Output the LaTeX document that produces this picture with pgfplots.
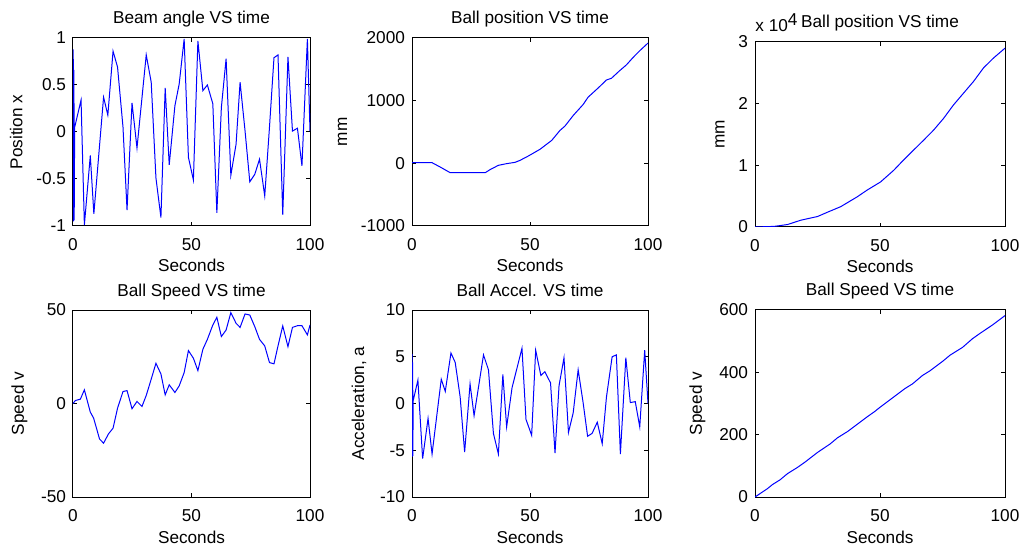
\documentclass[border=0pt]{standalone}
\usepackage{fontspec}
\setmainfont{Liberation Sans}
\usepackage{pgfplots}
\pgfplotsset{compat=1.18}
\definecolor{mblue}{RGB}{0,0,255}
\pgfplotsset{
  mat/.style={
    scale only axis, anchor=south west,
    xmin=0, xmax=100, xtick={0,50,100},
    tick align=inside, tick pos=both, major tick length=1.8pt,
    axis line style={line width=0.5pt},
    every tick/.style={black, line width=0.5pt},
    font=\fontsize{8.6}{10}\selectfont,
    /pgf/number format/assume math mode=true,
    /pgf/number format/1000 sep={},
    scaled ticks=false,
    xticklabel style={anchor=base, yshift=-12.3pt},
    x label style={at={(axis description cs:0.5,0)}, anchor=base, yshift=-23pt},
    every axis title shift=0pt,
    title style={at={(axis description cs:0.5,1)}, anchor=base, yshift=7pt},
    xlabel={Seconds},
    every axis plot/.append style={mblue, line width=0.5pt, no markers},
  },
}
\begin{document}
\begin{tikzpicture}
\useasboundingbox (0,0) rectangle (510pt,273pt);

% beam angle
\begin{axis}[mat, at={(36.5pt,160pt)}, width=118.5pt, height=94pt,
  ymin=-1, ymax=1, ytick={-1,-0.5,0,0.5,1},
  title={Beam angle VS time}, ylabel={Position x}]
\addplot coordinates {(0,0.05) (0.1,0.88) (0.2,-0.95) (0.4,0.66) (0.5,-0.94) (0.7,0.05)
 (3.4,0.34) (4.8,-0.99) (7.3,-0.25) (8.8,-0.87) (12.9,0.37) (14.7,0.18) (16.9,0.86)
 (18.8,0.69) (21.1,0.05) (22.8,-0.83) (24.9,0.31) (27.0,-0.17) (30.9,0.82) (33.0,0.53)
 (35.0,-0.49) (37.1,-0.91) (38.9,0.47) (40.6,-0.35) (43.0,0.28) (44.8,0.51) (46.9,0.99)
 (48.7,-0.27) (50.8,-0.51) (52.7,0.97) (54.8,0.44) (56.7,0.50) (59.0,0.30) (60.7,-0.86)
 (62.6,0.26) (64.6,0.78) (66.6,-0.46) (68.8,-0.13) (70.5,0.53) (72.6,0.01) (74.6,-0.53)
 (76.7,-0.45) (78.7,-0.29) (80.9,-0.68) (82.9,0.05) (84.8,0.79) (86.5,0.82) (88.5,-0.88)
 (90.7,0.80) (92.6,0.01) (94.7,0.04) (96.6,-0.36) (98.9,0.99) (100,0.01)};
\end{axis}

% ball position
\begin{axis}[mat, at={(206pt,160pt)}, width=118pt, height=94pt,
  ymin=-1000, ymax=2000, ytick={-1000,0,1000,2000},
  title={Ball position VS time}, ylabel={mm}]
\addplot coordinates {(0,10) (8.5,10) (12,-60) (16.2,-150) (31,-150) (33.1,-100)
 (36.6,-32) (40.1,-5) (43.7,16) (45.8,48) (49.3,117) (54.2,223) (59.2,366) (62.7,525)
 (64.8,594) (68.3,763) (72.5,938) (74.6,1055) (78.9,1203) (82.4,1330) (84.5,1357)
 (88,1479) (90.8,1569) (93.7,1690) (96.5,1797) (100,1919)};
\end{axis}

% ball position x 10^4
\begin{axis}[mat, name=p3, at={(377.5pt,159.5pt)}, width=125pt, height=92.5pt,
  ymin=0, ymax=3, ytick={0,1,2,3},
  title={Ball position VS time}, ylabel={mm}]
\addplot coordinates {(0,0) (7.7,0.01) (13,0.04) (18.3,0.11) (25,0.17) (29,0.24)
 (34.3,0.33) (40.9,0.49) (44.9,0.6) (50.2,0.73) (55.5,0.92) (59.5,1.09) (63.5,1.25)
 (67.5,1.41) (71.4,1.57) (75.4,1.76) (79.4,1.98) (83.4,2.17) (87.4,2.36) (91.4,2.58)
 (95.4,2.74) (100,2.90)};
\end{axis}
\node[anchor=base west, inner sep=0pt, font=\fontsize{8.6}{10}\selectfont]
  at ([yshift=5pt]p3.north west) {x 10\raisebox{3pt}{4}};

% ball speed
\begin{axis}[mat, at={(36.5pt,24.5pt)}, width=118.5pt, height=93.5pt,
  ymin=-50, ymax=50, ytick={-50,0,50},
  title={Ball Speed VS time}, ylabel={Speed v}]
\addplot coordinates {(0,0) (1.0,1.6) (3.1,2.3) (4.8,7.3) (7.3,-4.6) (8.7,-7.8)
 (11.2,-19) (12.9,-21.2) (15.0,-16.2) (16.9,-13.2) (18.8,-2.5) (21.1,6.4) (22.8,6.9)
 (24.9,-2.8) (27.0,1.1) (29.1,-1.6) (30.9,4.3) (32.9,12.6) (35.0,21.5) (37.1,15.8)
 (38.9,4.6) (40.6,10.0) (43.0,5.9) (44.8,9.4) (46.9,16.5) (48.7,28.3) (50.8,24.2)
 (52.7,17.6) (54.8,29.0) (56.7,34.3) (59.0,42.0) (60.7,46.1) (62.6,35.8) (64.6,39.3)
 (66.6,48.6) (68.8,42.9) (70.5,40.7) (72.6,47.9) (74.6,47.3) (76.7,41.1) (78.7,34.3)
 (80.9,30.8) (82.9,21.9) (84.8,21.2) (86.5,30.8) (88.5,41.5) (90.7,30.4) (92.6,40.7)
 (94.7,41.6) (96.6,41.6) (98.9,36.7) (100,42.0)};
\end{axis}

% ball accel
\begin{axis}[mat, at={(206pt,24.5pt)}, width=118pt, height=93.5pt,
  ymin=-10, ymax=10, ytick={-10,-5,0,5,10},
  title={Ball Accel. VS time}, ylabel={Acceleration, a}]
\addplot coordinates {(0,0.3) (0.05,5.3) (0.1,-5.7) (0.3,4.4) (0.35,-5.6) (0.5,0.3)
 (2.5,2.5) (4.5,-5.9) (6.8,-1.6) (8.5,-5.4) (12.4,2.6) (14.1,1.3) (16.5,5.4) (18.3,4.4)
 (20.4,0.7) (22.3,-5.2) (24.6,2.1) (26.3,-1.3) (30.3,5.2) (32.4,3.6) (34.5,-3.2)
 (36.6,-5.4) (38.5,3.1) (40.1,-2.5) (42.4,1.7) (44.4,3.7) (46.6,5.9) (48.3,-1.7)
 (50.7,-3.4) (52.4,5.7) (54.6,3.0) (56.3,3.4) (58.7,2.2) (60.6,-5.3) (62.3,1.9)
 (64.4,4.9) (66.3,-3.1) (68.3,-1.0) (70.4,3.6) (72.5,0.1) (74.4,-3.5) (76.3,-3.2)
 (78.5,-2.0) (80.6,-4.3) (82.4,0.7) (84.8,5.0) (86.6,5.2) (88.3,-5.4) (90.6,4.9)
 (92.5,0.1) (94.6,0.2) (96.5,-2.5) (98.6,5.7) (100,0)};
\end{axis}

% ball speed linear
\begin{axis}[mat, at={(377.5pt,24.5pt)}, width=125pt, height=93.5pt,
  ymin=0, ymax=600, ytick={0,200,400,600},
  title={Ball Speed VS time}, ylabel={Speed v}]
\addplot coordinates {(0,0) (5,27) (7,40) (10,55) (13,75) (17,95) (20,112) (25,143)
 (30,170) (33,190) (37,210) (40,228) (45,258) (48,275) (50,288) (55,318) (60,348)
 (63,363) (67,390) (70,405) (75,435) (78,455) (83,480) (87,508) (90,525) (95,552)
 (100,582)};
\end{axis}
\end{tikzpicture}
\end{document}
